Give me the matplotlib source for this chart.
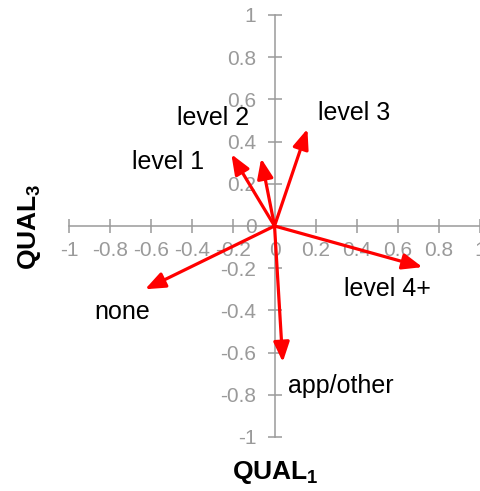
import matplotlib
matplotlib.use("Agg")
import matplotlib.pyplot as plt

plt.rcParams['font.family'] = ['Liberation Sans', 'DejaVu Sans']
plt.rcParams['mathtext.fontset'] = 'custom'
plt.rcParams['mathtext.rm'] = 'Liberation Sans'
plt.rcParams['mathtext.bf'] = 'Liberation Sans:bold'

# loadings of each category on QUAL1 (x) and QUAL3 (y)
categories = ['level 1', 'level 2', 'level 3', 'level 4+', 'none', 'app/other']
qual1 = [-0.21, -0.065, 0.16, 0.72, -0.63, 0.04]
qual3 = [0.34, 0.32, 0.46, -0.195, -0.30, -0.645]

# label anchors (x, y, horizontal alignment)
label_pos = {
    'level 1': (-0.345, 0.305, 'right'),
    'level 2': (-0.125, 0.51, 'right'),
    'level 3': (0.21, 0.535, 'left'),
    'level 4+': (0.34, -0.30, 'left'),
    'none': (-0.875, -0.41, 'left'),
    'app/other': (0.065, -0.76, 'left'),
}

ticks = [-1, -0.8, -0.6, -0.4, -0.2, 0, 0.2, 0.4, 0.6, 0.8, 1]
GRAY = '#9a9a9a'

fig = plt.figure(figsize=(4.81, 4.91), dpi=100)
ax = fig.add_axes([0.1435, 0.110, 0.8545, 0.8595])
ax.set_xlim(-1, 1)
ax.set_ylim(-1, 1)

for s in ['top', 'right']:
    ax.spines[s].set_visible(False)
for s in ['left', 'bottom']:
    ax.spines[s].set_position(('data', 0))
    ax.spines[s].set_color(GRAY)
    ax.spines[s].set_linewidth(1.1)

ax.set_xticks(ticks)
ax.set_yticks(ticks)
ax.set_xticklabels([f'{t:g}' for t in ticks])
ax.set_yticklabels([f'{t:g}' for t in ticks])
ax.tick_params(axis='x', direction='inout', length=10, width=1.1, color=GRAY,
               labelcolor=GRAY, labelsize=15, pad=6)
ax.tick_params(axis='y', direction='inout', length=10, width=1.1, color=GRAY,
               labelcolor=GRAY, labelsize=15, pad=8)

for cat, x, y in zip(categories, qual1, qual3):
    ax.annotate('', xy=(x, y), xytext=(0, 0),
                arrowprops=dict(arrowstyle='-|>,head_length=0.4,head_width=0.16',
                                mutation_scale=30, color='#ff0000', lw=2.3,
                                shrinkA=0, shrinkB=0),
                annotation_clip=False, zorder=5)
    lx, ly, ha = label_pos[cat]
    ax.text(lx, ly, cat, ha=ha, va='center', fontsize=18, color='black', zorder=6)

fig.text(0.5717, 0.038, r'$\mathbf{QUAL}_\mathbf{1}$', ha='center', va='center', fontsize=19)
fig.text(0.062, 0.538, r'$\mathbf{QUAL}_\mathbf{3}$', ha='center', va='center',
         fontsize=19, rotation=90)

fig.savefig('out.png', dpi=100)
